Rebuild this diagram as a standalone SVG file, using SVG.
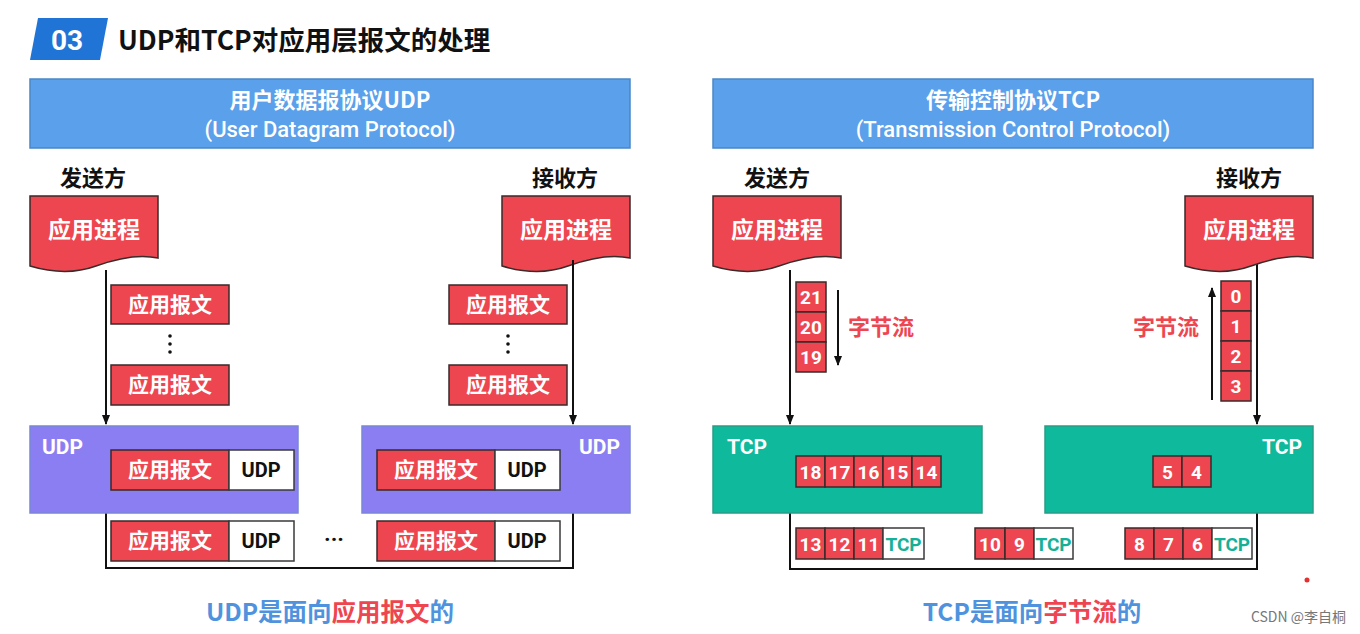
<svg xmlns="http://www.w3.org/2000/svg" width="1360" height="634" viewBox="0 0 1360 634">
<defs>
<style>
.cjk{font-family:"Noto Sans CJK SC","Liberation Sans",sans-serif;font-weight:bold}
.lat{font-family:"Roboto","Liberation Sans","Noto Sans CJK SC",sans-serif}
.banner{fill:#5ba0ea;stroke:#4a86c8;stroke-width:1.5}
.red{fill:#ee4650;stroke:#3a2a2a;stroke-width:1.5}
.white{fill:#ffffff;stroke:#3a3a3a;stroke-width:1.5}
.udpbox{fill:#8b7ef2;stroke:#7a86d8;stroke-width:1.5}
.tcpbox{fill:#0fb99b;stroke:#2a9c88;stroke-width:1.5}
.line{stroke:#111;stroke-width:2;fill:none}
.cell{font-family:"Roboto","Liberation Sans",sans-serif;font-weight:bold;font-size:19px;fill:#fff;text-anchor:middle}
.tcpl{font-family:"Roboto","Liberation Sans",sans-serif;font-weight:bold;font-size:19px;fill:#16b096;text-anchor:middle}
.msg{font-size:21px;fill:#fff;text-anchor:middle}
.udpl{font-family:"Roboto","Liberation Sans",sans-serif;font-weight:bold;font-size:20px;fill:#111;text-anchor:middle}
.boxl{font-family:"Roboto","Liberation Sans",sans-serif;font-weight:bold;font-size:21px;fill:#fff}
</style>
<marker id="ah" viewBox="0 0 10 10" refX="9" refY="5" markerWidth="5" markerHeight="5" orient="auto-start-reverse">
<path d="M0,1 L10,5 L0,9 Z" fill="#111"/>
</marker>
<path id="doc" d="M0,0 H128 V62 C110,58 88,62 66,70 C44,78 20,76 0,70 Z"/>
</defs>
<rect width="1360" height="634" fill="#ffffff"/>

<g id="title">
<path d="M38,18 H108 L100,60 H30 Z" fill="#1f74d6"/>
<text x="67" y="50" class="lat" font-weight="bold" font-size="28" fill="#fff" text-anchor="middle">03</text>
<text x="118" y="50" class="cjk" font-size="26.5" fill="#111">UDP和TCP对应用层报文的处理</text>
</g>

<!-- UDP side -->
<g id="udp-banner">
<rect x="30" y="79" width="600" height="69" class="banner"/>
<text x="330" y="108" class="cjk" font-size="22" fill="#fff" text-anchor="middle">用户数据报协议UDP</text>
<text x="330" y="137" class="lat" font-size="22" font-weight="500" fill="#fff" text-anchor="middle">(User Datagram Protocol)</text>
</g>
<g id="udp-sender-label"><text x="93" y="186" class="cjk" font-size="22" fill="#111" text-anchor="middle">发送方</text></g>
<g id="udp-receiver-label"><text x="565" y="186" class="cjk" font-size="22" fill="#111" text-anchor="middle">接收方</text></g>
<g id="udp-sender-app">
<use href="#doc" x="30" y="196" class="red"/>
<text x="94" y="238" class="cjk" font-size="23" fill="#fff" text-anchor="middle">应用进程</text>
</g>
<g id="udp-receiver-app">
<use href="#doc" x="502" y="196" class="red"/>
<text x="566" y="238" class="cjk" font-size="23" fill="#fff" text-anchor="middle">应用进程</text>
</g>

<g id="connectors">
<line x1="106" y1="270" x2="106" y2="424" class="line" marker-end="url(#ah)"/>
<line x1="573" y1="260" x2="573" y2="424" class="line" marker-end="url(#ah)"/>
<polyline points="106,513 106,568 573,568 573,513" class="line"/>
<line x1="790" y1="270" x2="790" y2="424" class="line" marker-end="url(#ah)"/>
<line x1="1257" y1="262" x2="1257" y2="424" class="line" marker-end="url(#ah)"/>
<polyline points="790,513 790,569 1257,569 1257,513" class="line"/>
<line x1="838" y1="290" x2="838" y2="365" class="line" marker-end="url(#ah)"/>
<line x1="1212" y1="400" x2="1212" y2="288" class="line" marker-end="url(#ah)"/>
</g>

<g id="udp-sender-msgs">
<rect x="111" y="285" width="118" height="39" class="red"/>
<text x="170" y="312" class="cjk msg">应用报文</text>
<circle cx="170" cy="336" r="1.8" fill="#111"/><circle cx="170" cy="344" r="1.8" fill="#111"/><circle cx="170" cy="352" r="1.8" fill="#111"/>
<rect x="111" y="365" width="118" height="40" class="red"/>
<text x="170" y="392" class="cjk msg">应用报文</text>
</g>
<g id="udp-receiver-msgs">
<rect x="449" y="285" width="118" height="39" class="red"/>
<text x="508" y="312" class="cjk msg">应用报文</text>
<circle cx="508" cy="336" r="1.8" fill="#111"/><circle cx="508" cy="344" r="1.8" fill="#111"/><circle cx="508" cy="352" r="1.8" fill="#111"/>
<rect x="449" y="365" width="118" height="40" class="red"/>
<text x="508" y="392" class="cjk msg">应用报文</text>
</g>

<g id="udp-sender-box">
<rect x="30" y="426" width="268" height="87" class="udpbox"/>
<text x="42" y="454" class="boxl">UDP</text>
<rect x="111" y="450" width="118" height="40" class="red"/>
<text x="170" y="477" class="cjk msg">应用报文</text>
<rect x="229" y="450" width="65" height="40" class="white"/>
<text x="261" y="477" class="udpl">UDP</text>
</g>
<g id="udp-receiver-box">
<rect x="362" y="426" width="268" height="87" class="udpbox"/>
<text x="620" y="454" class="boxl" text-anchor="end">UDP</text>
<rect x="377" y="450" width="118" height="40" class="red"/>
<text x="436" y="477" class="cjk msg">应用报文</text>
<rect x="495" y="450" width="65" height="40" class="white"/>
<text x="527" y="477" class="udpl">UDP</text>
</g>
<g id="udp-transit">
<rect x="111" y="521" width="118" height="40" class="red"/>
<text x="170" y="548" class="cjk msg">应用报文</text>
<rect x="229" y="521" width="65" height="40" class="white"/>
<text x="261" y="548" class="udpl">UDP</text>
<text x="334" y="547" class="lat" font-size="22" font-weight="bold" fill="#111" text-anchor="middle">···</text>
<rect x="377" y="521" width="118" height="40" class="red"/>
<text x="436" y="548" class="cjk msg">应用报文</text>
<rect x="495" y="521" width="65" height="40" class="white"/>
<text x="527" y="548" class="udpl">UDP</text>
</g>
<g id="udp-caption">
<text x="330" y="621" class="cjk" font-size="24.5" text-anchor="middle"><tspan fill="#4f93de">UDP是面向</tspan><tspan fill="#ee4650">应用报文</tspan><tspan fill="#4f93de">的</tspan></text>
</g>

<!-- TCP side -->
<g id="tcp-banner">
<rect x="713" y="79" width="600" height="69" class="banner"/>
<text x="1013" y="108" class="cjk" font-size="22" fill="#fff" text-anchor="middle">传输控制协议TCP</text>
<text x="1013" y="137" class="lat" font-size="22" font-weight="500" fill="#fff" text-anchor="middle">(Transmission Control Protocol)</text>
</g>
<g id="tcp-sender-label"><text x="777" y="186" class="cjk" font-size="22" fill="#111" text-anchor="middle">发送方</text></g>
<g id="tcp-receiver-label"><text x="1249" y="186" class="cjk" font-size="22" fill="#111" text-anchor="middle">接收方</text></g>
<g id="tcp-sender-app">
<use href="#doc" x="713" y="196" class="red"/>
<text x="777" y="238" class="cjk" font-size="23" fill="#fff" text-anchor="middle">应用进程</text>
</g>
<g id="tcp-receiver-app">
<use href="#doc" x="1185" y="196" class="red"/>
<text x="1249" y="238" class="cjk" font-size="23" fill="#fff" text-anchor="middle">应用进程</text>
</g>

<g id="tcp-sender-stream">
<rect x="796" y="282" width="30" height="30" class="red"/><text x="811" y="304" class="cell">21</text>
<rect x="796" y="312" width="30" height="30" class="red"/><text x="811" y="334" class="cell">20</text>
<rect x="796" y="342" width="30" height="30" class="red"/><text x="811" y="364" class="cell">19</text>
<text x="881" y="335" class="cjk" font-size="22" fill="#ee4650" text-anchor="middle">字节流</text>
</g>
<g id="tcp-receiver-stream">
<rect x="1221" y="281" width="30" height="30" class="red"/><text x="1236" y="303" class="cell">0</text>
<rect x="1221" y="311" width="30" height="30" class="red"/><text x="1236" y="333" class="cell">1</text>
<rect x="1221" y="341" width="30" height="30" class="red"/><text x="1236" y="363" class="cell">2</text>
<rect x="1221" y="371" width="30" height="30" class="red"/><text x="1236" y="393" class="cell">3</text>
<text x="1166" y="335" class="cjk" font-size="22" fill="#ee4650" text-anchor="middle">字节流</text>
</g>

<g id="tcp-sender-box">
<rect x="713" y="426" width="269" height="87" class="tcpbox"/>
<text x="727" y="454" class="boxl">TCP</text>
<rect x="796" y="456" width="29" height="31" class="red"/><text x="810.5" y="479" class="cell">18</text>
<rect x="825" y="456" width="29" height="31" class="red"/><text x="839.5" y="479" class="cell">17</text>
<rect x="854" y="456" width="29" height="31" class="red"/><text x="868.5" y="479" class="cell">16</text>
<rect x="883" y="456" width="29" height="31" class="red"/><text x="897.5" y="479" class="cell">15</text>
<rect x="912" y="456" width="29" height="31" class="red"/><text x="926.5" y="479" class="cell">14</text>
</g>
<g id="tcp-receiver-box">
<rect x="1045" y="426" width="268" height="87" class="tcpbox"/>
<text x="1302" y="454" class="boxl" text-anchor="end">TCP</text>
<rect x="1153" y="456" width="29" height="31" class="red"/><text x="1167.5" y="479" class="cell">5</text>
<rect x="1182" y="456" width="29" height="31" class="red"/><text x="1196.5" y="479" class="cell">4</text>
</g>

<g id="tcp-seg1">
<rect x="796" y="528" width="29" height="31" class="red"/><text x="810.5" y="551" class="cell">13</text>
<rect x="825" y="528" width="29" height="31" class="red"/><text x="839.5" y="551" class="cell">12</text>
<rect x="854" y="528" width="29" height="31" class="red"/><text x="868.5" y="551" class="cell">11</text>
<rect x="883" y="528" width="41" height="31" class="white"/><text x="903.5" y="551" class="tcpl">TCP</text>
</g>
<g id="tcp-seg2">
<rect x="975" y="528" width="30" height="31" class="red"/><text x="990" y="551" class="cell">10</text>
<rect x="1005" y="528" width="29" height="31" class="red"/><text x="1019.5" y="551" class="cell">9</text>
<rect x="1034" y="528" width="39" height="31" class="white"/><text x="1053.5" y="551" class="tcpl">TCP</text>
</g>
<g id="tcp-seg3">
<rect x="1125" y="528" width="29" height="31" class="red"/><text x="1139.5" y="551" class="cell">8</text>
<rect x="1154" y="528" width="29" height="31" class="red"/><text x="1168.5" y="551" class="cell">7</text>
<rect x="1183" y="528" width="29" height="31" class="red"/><text x="1197.5" y="551" class="cell">6</text>
<rect x="1212" y="528" width="40" height="31" class="white"/><text x="1232" y="551" class="tcpl">TCP</text>
</g>
<g id="tcp-caption">
<text x="1032" y="621" class="cjk" font-size="24.5" text-anchor="middle"><tspan fill="#4f93de">TCP是面向</tspan><tspan fill="#ee4650">字节流</tspan><tspan fill="#4f93de">的</tspan></text>
</g>

<g id="watermark">
<circle cx="1307" cy="580" r="2.5" fill="#e53030"/>
<text x="1346" y="622" font-family="'Noto Sans CJK SC','Liberation Sans',sans-serif" font-size="14" fill="#777" text-anchor="end">CSDN @李自桐</text>
</g>
</svg>
